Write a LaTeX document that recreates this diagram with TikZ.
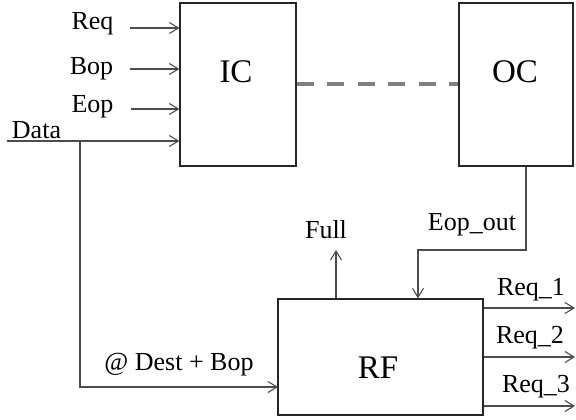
\documentclass[tikz,border=0pt]{standalone}
\usepackage{fontspec}
\setmainfont{Liberation Serif}
\usetikzlibrary{arrows.meta}

\begin{document}
\begin{tikzpicture}[x=1pt,y=-1pt]
\tikzset{
  block/.style={draw=black!85,line width=1.2pt,inner sep=0pt},
  sigline/.style={draw=black!70,line width=1.1pt},
  sigarrow/.style={sigline,-{Straight Barb[length=9pt,width=11pt,line width=1.1pt]}},
  siglabel/.style={anchor=base,inner sep=0pt,font=\fontsize{26}{30}\selectfont},
  boxlabel/.style={anchor=base,inner sep=0pt,font=\fontsize{33}{38}\selectfont},
  linkdash/.style={draw=black!50,line width=4pt,dash pattern=on 17pt off 13.5pt}
}
\useasboundingbox (0,0) rectangle (576,420);
% blocks
\node[block,minimum width=116pt,minimum height=163pt] (ic) at (238,84.5) {};
\node[block,minimum width=114pt,minimum height=163pt] (oc) at (516,84.5) {};
\node[block,minimum width=205pt,minimum height=116pt] (rf) at (380.5,357) {};
\node[boxlabel] (ic_t) at (236,83) {IC};
\node[boxlabel] (oc_t) at (515,83) {OC};
\node[boxlabel] (rf_t) at (378,378) {RF};
% IC -- OC link
\draw[linkdash] (ic.east |- 0,84) -- (oc.west |- 0,84);
% inputs of IC
\coordinate (req_in) at (130,28);
\coordinate (bop_in) at (130,69);
\coordinate (eop_in) at (131,109);
\coordinate (data_in) at (7,141);
\coordinate (data_split) at (80,141);
\draw[sigarrow] (req_in) -- (req_in -| ic.west);
\draw[sigarrow] (bop_in) -- (bop_in -| ic.west);
\draw[sigarrow] (eop_in) -- (eop_in -| ic.west);
\draw[sigarrow] (data_in) -- (data_in -| ic.west);
\node[siglabel] (req) at (92.5,30) {Req};
\node[siglabel] (bop) at (91.5,75) {Bop};
\node[siglabel] (eop) at (92.5,113) {Eop};
\node[siglabel] (data) at (36.5,138) {Data};
% data branch into RF
\coordinate (rf_data) at (278,387);
\draw[sigarrow] (data_split) |- (rf_data);
\node[siglabel] (dest) at (179,370) {@ Dest + Bop};
% Eop_out from OC to RF
\coordinate (eop_turn) at (526,250);
\coordinate (eop_drop) at (418,250);
\draw[sigarrow] (eop_turn |- oc.south) -- (eop_turn) -- (eop_drop) -- (eop_drop |- rf.north);
\node[siglabel] (eop_out) at (472,230) {Eop\_out};
% Full
\coordinate (full_tip) at (336,250);
\draw[sigarrow] (full_tip |- rf.north) -- (full_tip);
\node[siglabel] (full) at (326,238) {Full};
% outputs of RF
\coordinate (req1_out) at (575,308);
\coordinate (req2_out) at (575,357);
\coordinate (req3_out) at (575,406);
\draw[sigarrow] (req1_out -| rf.east) -- (req1_out);
\draw[sigarrow] (req2_out -| rf.east) -- (req2_out);
\draw[sigarrow] (req3_out -| rf.east) -- (req3_out);
\node[siglabel] (req1) at (531,295) {Req\_1};
\node[siglabel] (req2) at (530,343) {Req\_2};
\node[siglabel] (req3) at (536,392) {Req\_3};
\end{tikzpicture}
\end{document}
